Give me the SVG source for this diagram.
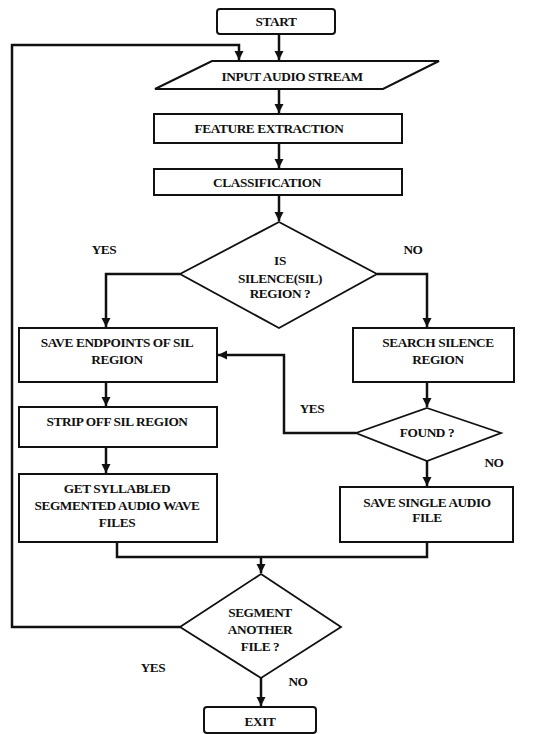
<svg xmlns="http://www.w3.org/2000/svg" width="533" height="734" viewBox="0 0 533 734">
<style>
.box{fill:#fff;stroke:#111;stroke-width:2}
.dia{fill:#fff;stroke:#111;stroke-width:1.8}
text{font-family:'Liberation Serif','DejaVu Serif',serif;font-weight:700;font-size:13.3px;fill:#111;text-anchor:middle;letter-spacing:-0.4px}
.c{fill:none;stroke:#111;stroke-width:2.5}
</style>
<defs>
<marker id="ah" markerWidth="10" markerHeight="10" refX="9" refY="5" orient="auto" markerUnits="userSpaceOnUse">
<path d="M0,0.5 L9,5 L0,9.5 Z" fill="#111"/>
</marker>
</defs>
<rect width="533" height="734" fill="#fff"/>
<g id="connectors">
<path class="c" d="M279,34 V60" marker-end="url(#ah)"/>
<path class="c" d="M279,89 V113" marker-end="url(#ah)"/>
<path class="c" d="M279,143 V168" marker-end="url(#ah)"/>
<path class="c" d="M279,195 V221" marker-end="url(#ah)"/>
<path class="c" d="M180,274 H106 V327" marker-end="url(#ah)"/>
<path class="c" d="M377,274 H427 V327" marker-end="url(#ah)"/>
<path class="c" d="M106,382 V406" marker-end="url(#ah)"/>
<path class="c" d="M106,447 V473" marker-end="url(#ah)"/>
<path class="c" d="M427,382 V407" marker-end="url(#ah)"/>
<path class="c" d="M356,433 H284 V355 H218" marker-end="url(#ah)"/>
<path class="c" d="M427,461 V486" marker-end="url(#ah)"/>
<path class="c" d="M117,542 V557 H427 V542"/>
<path class="c" d="M261,557 V573" marker-end="url(#ah)"/>
<path class="c" d="M180,627 H12 V45 H239 V60" marker-end="url(#ah)"/>
<path class="c" d="M261,678 V706" marker-end="url(#ah)"/>
</g>
<g id="start"><rect class="box" x="217" y="9" width="118" height="25" rx="3"/><text x="276" y="26">START</text></g>
<g id="input"><polygon class="box" points="212,61 439,61 383,89 155,89"/><text x="292" y="81">INPUT AUDIO STREAM</text></g>
<g id="feature"><rect class="box" x="154" y="114" width="248" height="29"/><text x="269" y="133">FEATURE EXTRACTION</text></g>
<g id="classification"><rect class="box" x="154" y="169" width="248" height="26"/><text x="267" y="187">CLASSIFICATION</text></g>
<g id="is-silence"><polygon class="dia" points="279,222 377,274 279,328 180,274"/>
<text x="280" y="265">IS</text><text x="280" y="283">SILENCE(SIL)</text><text x="280" y="298">REGION ?</text></g>
<g id="save-endpoints"><rect class="box" x="19" y="328" width="198" height="54"/><text x="117" y="347">SAVE ENDPOINTS OF SIL</text><text x="117" y="364">REGION</text></g>
<g id="search"><rect class="box" x="353" y="328" width="161" height="54"/><text x="438" y="347">SEARCH SILENCE</text><text x="438" y="364">REGION</text></g>
<g id="strip"><rect class="box" x="19" y="407" width="198" height="40"/><text x="117" y="426">STRIP OFF SIL REGION</text></g>
<g id="get-files"><rect class="box" x="19" y="474" width="198" height="68"/><text x="117" y="493">GET SYLLABLED</text><text x="117" y="510">SEGMENTED AUDIO WAVE</text><text x="117" y="527">FILES</text></g>
<g id="found"><polygon class="dia" points="427,408 501,433 427,461 356,433"/><text x="427" y="437">FOUND ?</text></g>
<g id="save-single"><rect class="box" x="340" y="487" width="173" height="55"/><text x="427" y="507">SAVE SINGLE AUDIO</text><text x="427" y="522">FILE</text></g>
<g id="segment-another"><polygon class="dia" points="261,574 341,627 261,678 180,627"/>
<text x="260" y="617">SEGMENT</text><text x="260" y="634">ANOTHER</text><text x="260" y="651">FILE ?</text></g>
<g id="exit"><rect class="box" x="204" y="707" width="112" height="26" rx="3"/><text x="260" y="726">EXIT</text></g>
<g id="labels">
<text x="104" y="254">YES</text><text x="413" y="254">NO</text>
<text x="312" y="413">YES</text><text x="494" y="467">NO</text>
<text x="153" y="672">YES</text><text x="298" y="686">NO</text>
</g>
</svg>
